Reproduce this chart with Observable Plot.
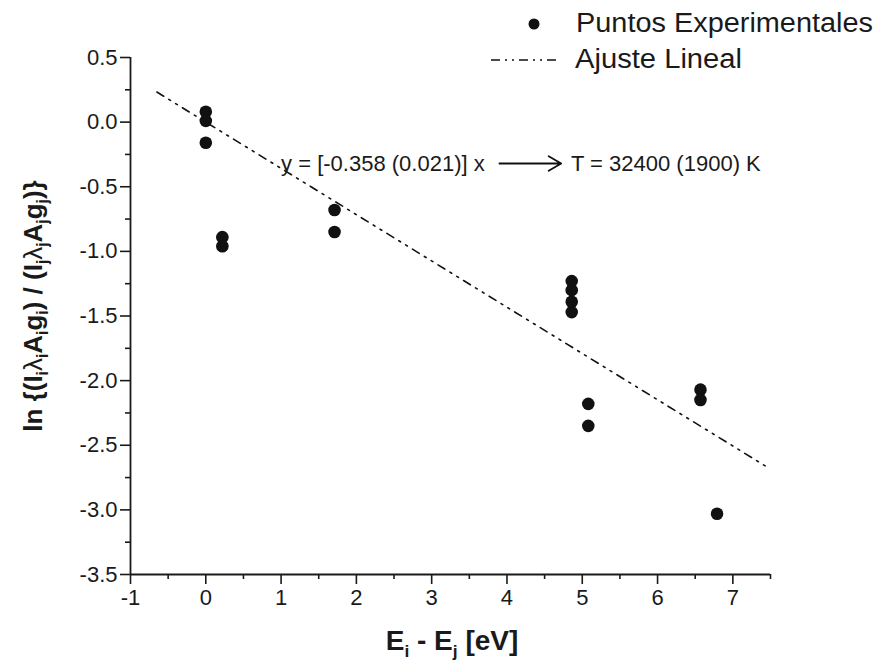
<!DOCTYPE html>
<html><head><meta charset="utf-8">
<script src="https://cdn.jsdelivr.net/npm/d3@7"></script>
<script src="https://cdn.jsdelivr.net/npm/@observablehq/plot@0.6"></script>
<style>body{margin:0;background:#fff} svg{display:block}</style>
</head><body><div id="chart"></div>
<script>
// Experimental points (E_i - E_j, ln ratio)
const expX = [0, 0, 0, 0.22, 0.22, 1.71, 1.71, 4.86, 4.86, 4.86, 4.86, 5.08, 5.08, 6.57, 6.57, 6.79];
const expY = [0.08, 0.01, -0.16, -0.89, -0.96, -0.68, -0.85, -1.23, -1.30, -1.39, -1.47, -2.18, -2.35, -2.07, -2.15, -3.03];
// Linear fit
const fitSlope = -0.358;
const fitIntercept = 0.0;
const fitRange = [-0.65, 7.45];
// Ticks
const xMajor = [-1, 0, 1, 2, 3, 4, 5, 6, 7];
const xMinor = [-0.5, 0.5, 1.5, 2.5, 3.5, 4.5, 5.5, 6.5, 7.5];
const yMajor = [-3.5, -3.0, -2.5, -2.0, -1.5, -1.0, -0.5, 0.0, 0.5];
const yMinor = [-3.25, -2.75, -2.25, -1.75, -1.25, -0.75, -0.25, 0.25];
// Annotation
const annotText = ["y = [-0.358 (0.021)] x", "T = 32400 (1900) K"];
const annotX = [1.0, 4.85];
const annotY = [-0.32, -0.32];
const arrowFrom = [3.9, -0.32];
const arrowTo = [4.72, -0.32];
// Legend
const legendLabels = ["Puntos Experimentales", "Ajuste Lineal"];

const pts = expX.map((x, i) => ({x, y: expY[i]}));
const fit = fitRange.map(x => ({x, y: fitSlope * x + fitIntercept}));
const ann = annotText.map((t, i) => ({t, x: annotX[i], y: annotY[i]}));

const FONT = "'Liberation Sans', Arial, Helvetica, sans-serif";
const plot = Plot.plot({
  width: 881, height: 665,
  marginLeft: 130, marginRight: 111, marginTop: 57, marginBottom: 91,
  x: {domain: [-1, 7.5]},
  y: {domain: [-3.5, 0.5]},
  style: {fontFamily: FONT, fontSize: "22px", background: "#fff", color: "#1a1a1a"},
  marks: [
    Plot.axisX({ticks: xMinor, tickSize: 5, tickFormat: () => "", label: null, strokeWidth: 1.6}),
    Plot.axisX({ticks: xMajor, tickSize: 10, tickPadding: 5, tickFormat: d => String(d), fontSize: 22, label: null, strokeWidth: 1.6}),
    Plot.axisY({ticks: yMinor, tickSize: 5, tickFormat: () => "", label: null, strokeWidth: 1.6}),
    Plot.axisY({ticks: yMajor, tickSize: 10, tickPadding: 3, tickFormat: d => d.toFixed(1), fontSize: 22, label: null, strokeWidth: 1.6}),
    Plot.ruleX([-1], {strokeWidth: 1.8}),
    Plot.ruleY([-3.5], {strokeWidth: 1.8}),
    Plot.line(fit, {x: "x", y: "y", strokeDasharray: "8,6,2,6,2,6", strokeWidth: 1.6, stroke: "#111"}),
    Plot.dot(pts, {x: "x", y: "y", r: 6.3, fill: "#111", stroke: "none"}),
    Plot.text(ann, {x: "x", y: "y", text: "t", textAnchor: "start", fontSize: 22, fill: "#1a1a1a"}),
    Plot.arrow([{x1: arrowFrom[0], y1: arrowFrom[1], x2: arrowTo[0], y2: arrowTo[1]}],
      {x1: "x1", y1: "y1", x2: "x2", y2: "y2", strokeWidth: 1.8, headLength: 12, stroke: "#111", bend: 0})
  ]
});
document.getElementById("chart").appendChild(plot);

const svg = d3.select(plot);
// Legend
const lg = svg.append("g").attr("font-family", FONT).attr("fill", "#1a1a1a").attr("text-anchor", "start");
lg.append("circle").attr("cx", 534).attr("cy", 24).attr("r", 5.5).attr("fill", "#111");
lg.append("line").attr("x1", 491).attr("x2", 560).attr("y1", 60).attr("y2", 60)
  .attr("stroke", "#111").attr("stroke-width", 1.6).attr("stroke-dasharray", "9,5,2,5,2,5");
lg.append("text").attr("x", 576).attr("y", 23).attr("dy", "0.35em").attr("font-size", 27)
  .attr("textLength", 297).attr("lengthAdjust", "spacingAndGlyphs").text(legendLabels[0]);
lg.append("text").attr("x", 575).attr("y", 59).attr("dy", "0.35em").attr("font-size", 27)
  .attr("textLength", 167).attr("lengthAdjust", "spacingAndGlyphs").text(legendLabels[1]);

// X axis title: E_i - E_j [eV]
const xt = svg.append("text").attr("x", 452).attr("y", 650).attr("text-anchor", "middle")
  .attr("font-family", FONT).attr("font-weight", "bold").attr("font-size", 28).attr("fill", "#1a1a1a");
xt.append("tspan").text("E");
xt.append("tspan").attr("font-size", "0.62em").attr("dy", 7).text("i");
xt.append("tspan").attr("dy", -7).text(" - E");
xt.append("tspan").attr("font-size", "0.62em").attr("dy", 7).text("j");
xt.append("tspan").attr("dy", -7).text(" [eV]");

// Y axis title
const yt = svg.append("text").attr("transform", "translate(42,306) rotate(-90)").attr("text-anchor", "middle")
  .attr("font-family", FONT).attr("font-weight", "bold").attr("font-size", 26).attr("fill", "#1a1a1a");
yt.append("tspan").text("ln {(I");
function addGroup(sub) {
  yt.append("tspan").attr("font-size", "0.6em").attr("dy", 6).text(sub);
  yt.append("tspan").attr("dy", -6).attr("font-weight", "normal").text("\u03BB");
  yt.append("tspan").attr("font-size", "0.6em").attr("dy", 6).text(sub);
  yt.append("tspan").attr("dy", -6).text("A");
  yt.append("tspan").attr("font-size", "0.6em").attr("dy", 6).text(sub);
  yt.append("tspan").attr("dy", -6).text("g");
  yt.append("tspan").attr("font-size", "0.6em").attr("dy", 6).text(sub);
}
addGroup("i");
yt.append("tspan").attr("dy", -6).text(") / (I");
addGroup("j");
yt.append("tspan").attr("dy", -6).text(")}");
</script>
</body></html>
